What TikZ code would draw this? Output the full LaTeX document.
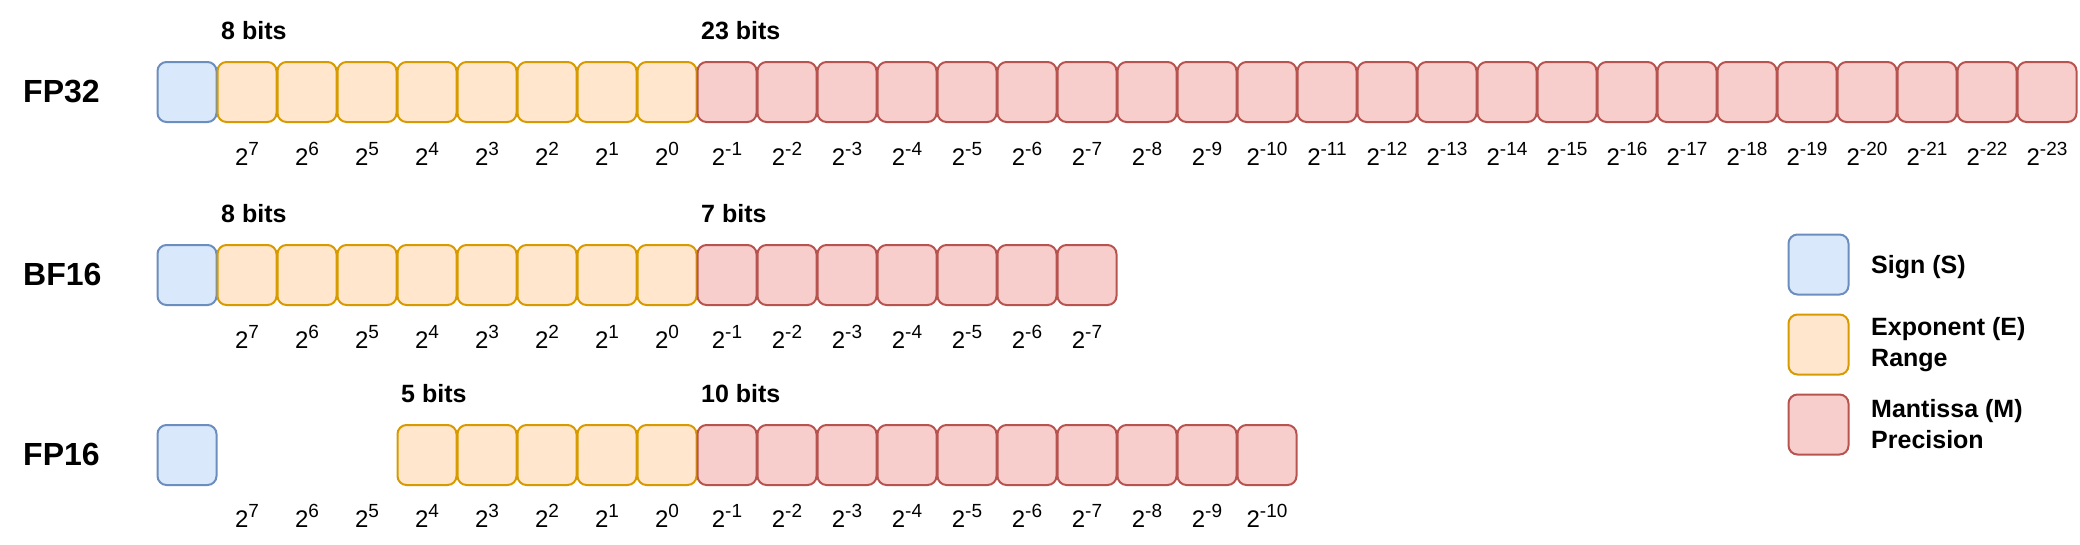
\documentclass[tikz,border=0pt]{standalone}
\usepackage{fontspec}
\setmainfont{Liberation Sans}
\definecolor{sfill}{HTML}{DAE8FC}
\definecolor{sdraw}{HTML}{6C8EBF}
\definecolor{efill}{HTML}{FFE6CC}
\definecolor{edraw}{HTML}{D79B00}
\definecolor{mfill}{HTML}{F8CECC}
\definecolor{mdraw}{HTML}{B85450}
\newcommand\spx[1]{\raisebox{9.7pt}{\fontsize{19}{19}\selectfont #1}}
\tikzset{
  bitbox/.style={draw, line width=2pt, rounded corners=9pt, minimum width=59pt, minimum height=60pt, inner sep=0pt},
  sbox/.style={bitbox, fill=sfill, draw=sdraw},
  ebox/.style={bitbox, fill=efill, draw=edraw},
  mbox/.style={bitbox, fill=mfill, draw=mdraw},
  pw/.style={font=\fontsize{24}{28}\selectfont, inner sep=0pt, anchor=base},
  bits/.style={font=\bfseries\fontsize{25}{30}\selectfont, inner sep=0pt, anchor=base west},
  fmt/.style={font=\bfseries\fontsize{32}{38}\selectfont, inner sep=0pt, anchor=base west},
  legtext/.style={font=\bfseries\fontsize{25}{31}\selectfont, inner sep=0pt, anchor=west, align=left}
}
\begin{document}
\begin{tikzpicture}[x=1pt,y=-1pt]
\useasboundingbox (0,0) rectangle (2080,544);
% ---------- FP32 ----------
\node[fmt] (fp32) at (23,102.5) {FP32};
\node[sbox] (a0) at (187,92) {};
\foreach \i in {1,...,8} \node[ebox] (a\i) at ({187+60*\i},92) {};
\foreach \i in {9,...,31} \node[mbox] (a\i) at ({187+60*\i},92) {};
\foreach \i [evaluate=\i as \e using int(8-\i)] in {1,...,31}
  \node[pw] (la\i) at ({187+60*\i},165) {2\spx{\e}};
\node[bits] (a8b) at (221,39.5) {8 bits};
\node[bits] (a23b) at (701,39.5) {23 bits};
% ---------- BF16 ----------
\node[fmt] (bf16) at (23,285.5) {BF16};
\node[sbox] (b0) at (187,275) {};
\foreach \i in {1,...,8} \node[ebox] (b\i) at ({187+60*\i},275) {};
\foreach \i in {9,...,15} \node[mbox] (b\i) at ({187+60*\i},275) {};
\foreach \i [evaluate=\i as \e using int(8-\i)] in {1,...,15}
  \node[pw] (lb\i) at ({187+60*\i},348) {2\spx{\e}};
\node[bits] (b8b) at (221,222.5) {8 bits};
\node[bits] (b7b) at (701,222.5) {7 bits};
% ---------- FP16 ----------
\node[fmt] (fp16) at (23,465.5) {FP16};
\node[sbox] (c0) at (187,455) {};
\foreach \i in {4,...,8} \node[ebox] (c\i) at ({187+60*\i},455) {};
\foreach \i in {9,...,18} \node[mbox] (c\i) at ({187+60*\i},455) {};
\foreach \i [evaluate=\i as \e using int(8-\i)] in {1,...,18}
  \node[pw] (lc\i) at ({187+60*\i},527) {2\spx{\e}};
\node[bits] (c5b) at (401,402.5) {5 bits};
\node[bits] (c10b) at (701,402.5) {10 bits};
% ---------- Legend ----------
\node[sbox, minimum width=60pt] (ls) at (1818.5,264.5) {};
\node[ebox, minimum width=60pt] (le) at (1818.5,344.5) {};
\node[mbox, minimum width=60pt] (lm) at (1818.5,424.5) {};
\node[legtext] (lst) at (1871,267.5) {Sign (S)};
\node[legtext] (let) at (1871,344.5) {Exponent (E)\\Range};
\node[legtext] (lmt) at (1871,424.5) {Mantissa (M)\\Precision};
\end{tikzpicture}
\end{document}
